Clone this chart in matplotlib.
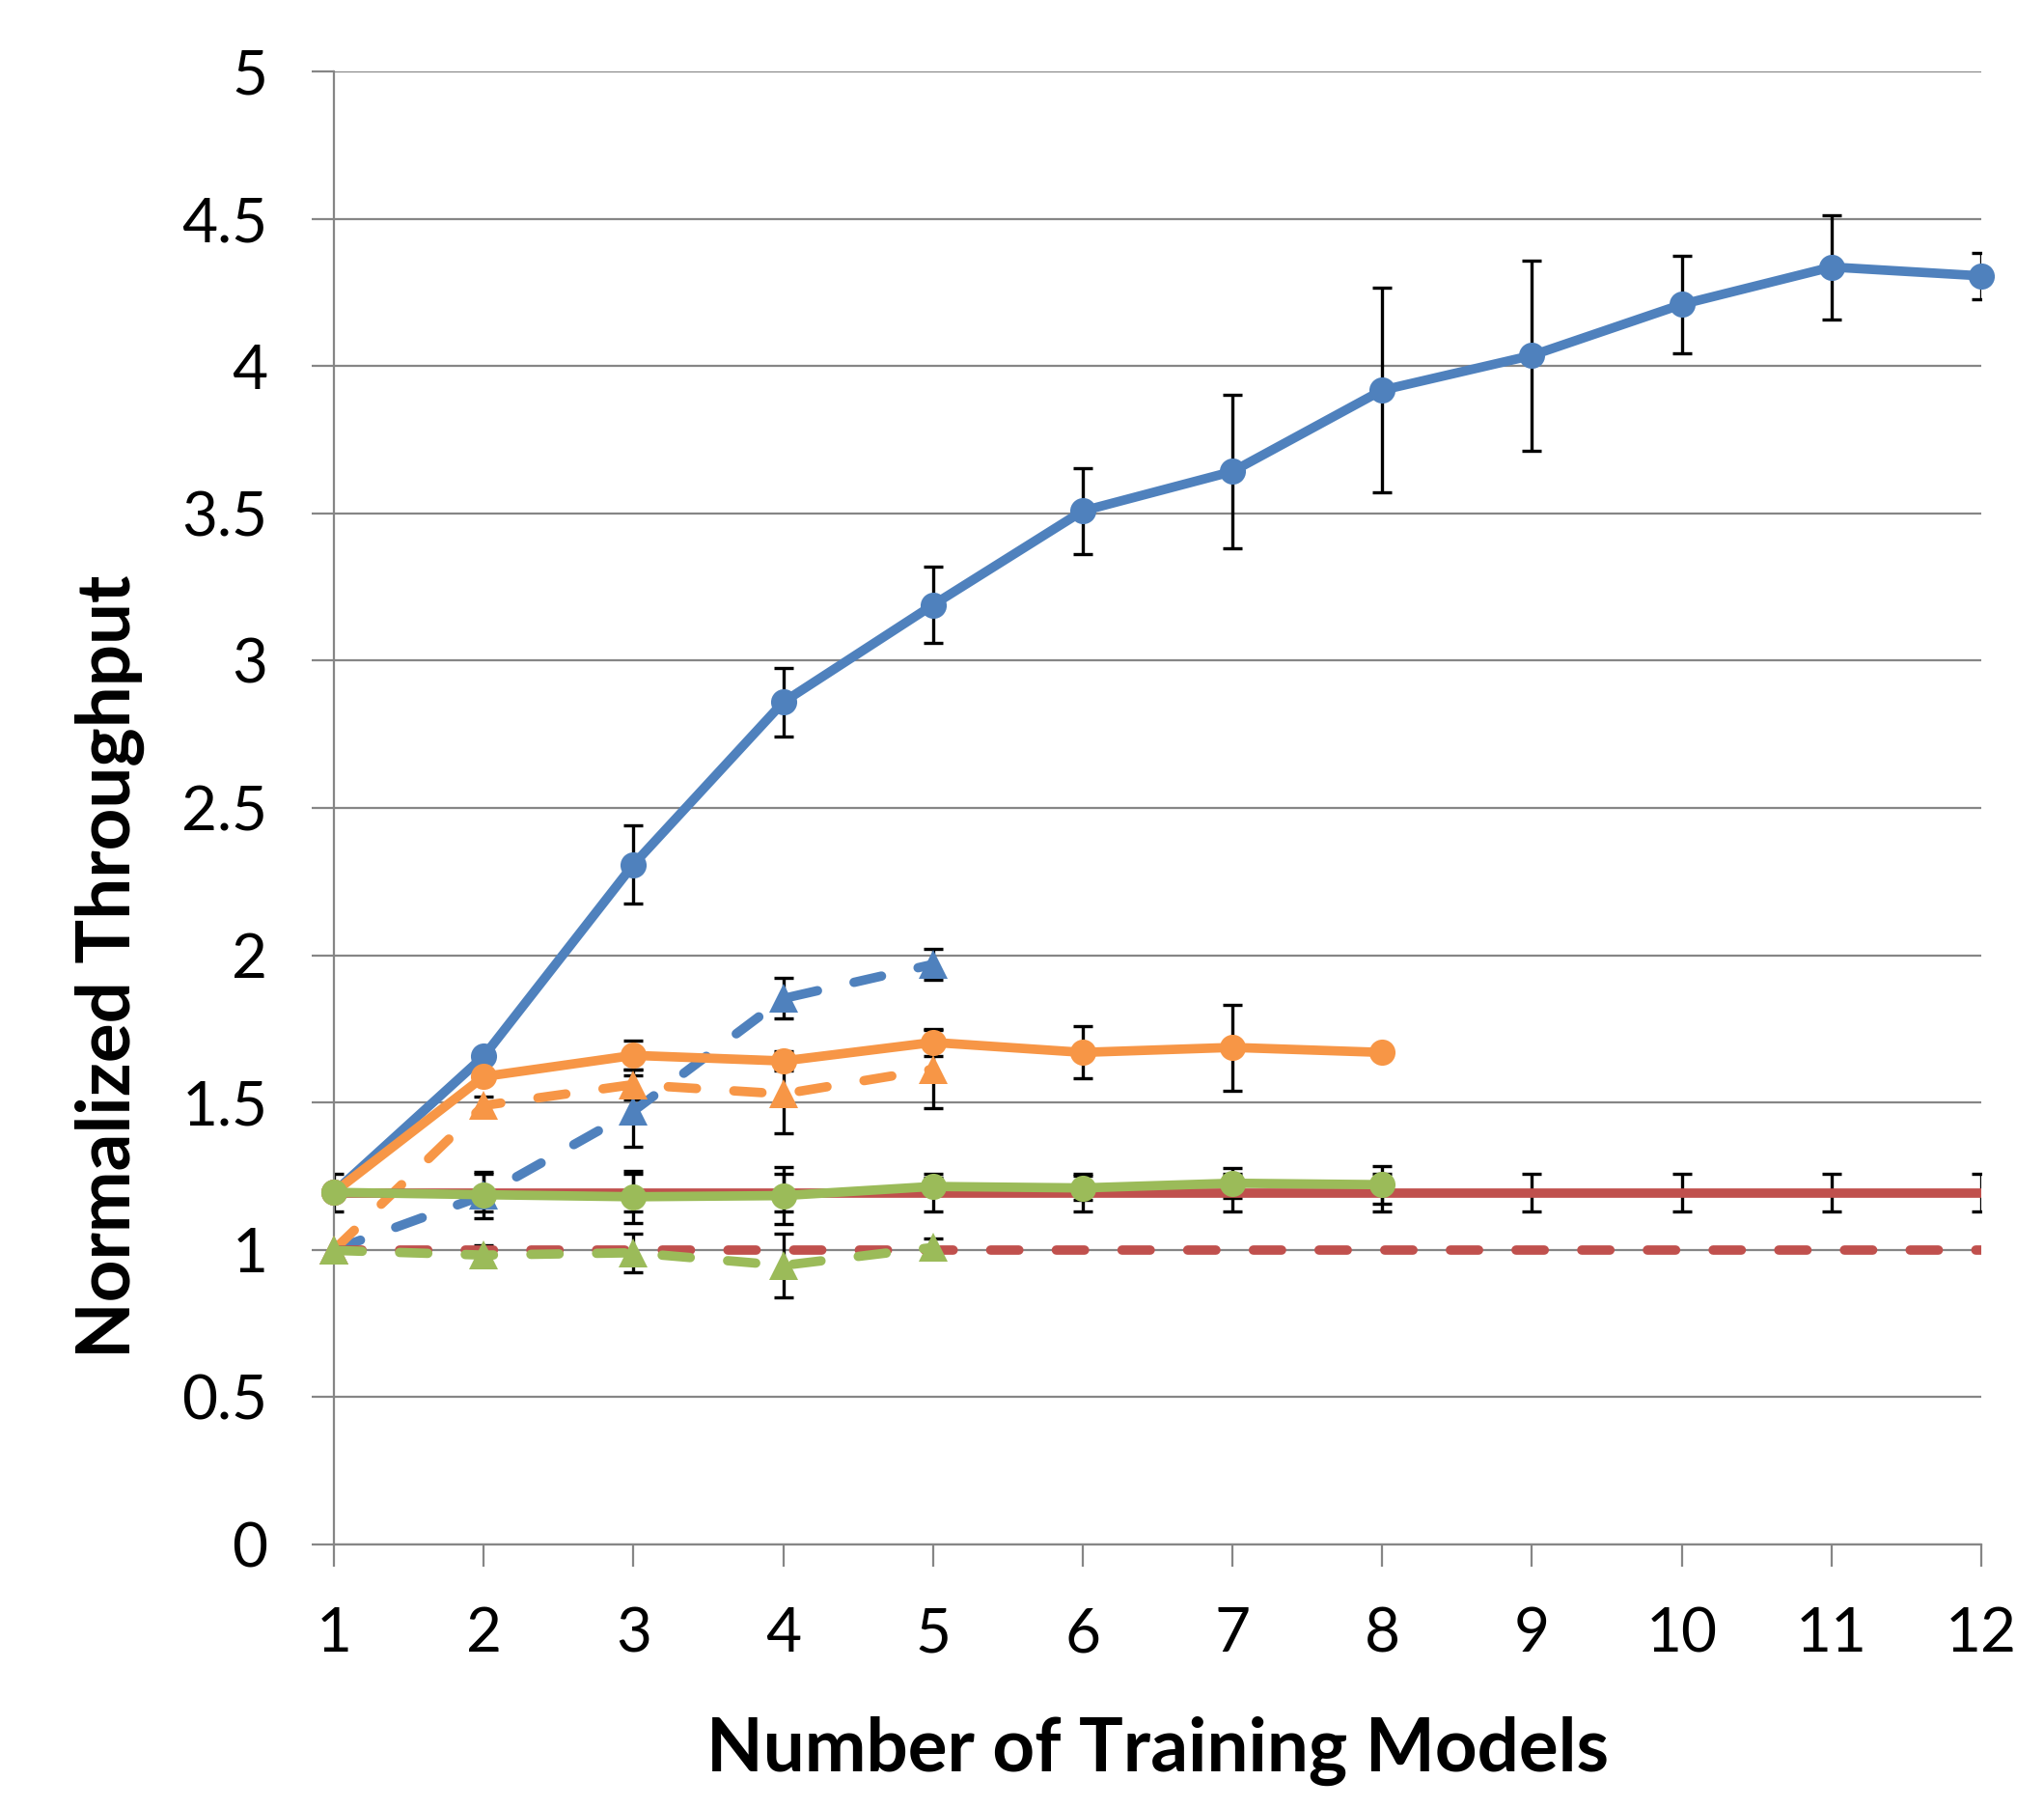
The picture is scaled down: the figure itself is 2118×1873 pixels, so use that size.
import matplotlib

matplotlib.use("Agg")

import matplotlib.pyplot as plt

plt.rcParams["font.family"] = ["Lato", "DejaVu Sans"]

# values
models_12 = [1, 2, 3, 4, 5, 6, 7, 8, 9, 10, 11, 12]
models_8 = [1, 2, 3, 4, 5, 6, 7, 8]
models_5 = [1, 2, 3, 4, 5]

blue_solid = [1.195, 1.657, 2.308, 2.859, 3.189, 3.508, 3.642, 3.918, 4.036, 4.209, 4.336, 4.306]
blue_solid_err = [0.0, 0.0, 0.134, 0.116, 0.130, 0.145, 0.261, 0.347, 0.323, 0.165, 0.177, 0.078]

blue_dashed = [1.0, 1.185, 1.471, 1.853, 1.969]
blue_dashed_err = [0.0, 0.078, 0.122, 0.069, 0.053]

orange_solid = [1.195, 1.588, 1.660, 1.641, 1.704, 1.670, 1.687, 1.670]
orange_solid_err = [0.0, 0.0, 0.049, 0.033, 0.047, 0.088, 0.146, 0.0]

orange_dashed = [1.0, 1.490, 1.561, 1.529, 1.613]
orange_dashed_err = [0.0, 0.03, 0.05, 0.133, 0.133]

red_solid = [1.194, 1.194, 1.194, 1.194, 1.194, 1.194, 1.194, 1.194, 1.194, 1.194, 1.194, 1.194]
red_solid_err = [0.065, 0.065, 0.065, 0.065, 0.065, 0.065, 0.065, 0.065, 0.065, 0.065, 0.065, 0.065]

red_dashed = [1.0, 1.0, 1.0, 1.0, 1.0, 1.0, 1.0, 1.0, 1.0, 1.0, 1.0, 1.0]

green_solid = [1.195, 1.187, 1.180, 1.184, 1.215, 1.210, 1.226, 1.221]
green_solid_err = [0.0, 0.02, 0.088, 0.098, 0.03, 0.04, 0.05, 0.063]

green_dashed = [0.998, 0.982, 0.990, 0.947, 1.008]
green_dashed_err = [0.0, 0.034, 0.066, 0.107, 0.032]

y_ticks = [0, 0.5, 1, 1.5, 2, 2.5, 3, 3.5, 4, 4.5, 5]
y_tick_labels = ["0", "0.5", "1", "1.5", "2", "2.5", "3", "3.5", "4", "4.5", "5"]

BLUE = "#4F81BD"
ORANGE = "#F79646"
RED = "#C0504D"
GREEN = "#9BBB59"
GRID = "#868686"

fig = plt.figure(figsize=(21.18, 18.73), dpi=100)
ax = fig.add_axes([0.1634, 0.1458, 0.8059, 0.8147])

series = [
    (models_12, blue_solid, blue_solid_err, BLUE, "solid", "o"),
    (models_5, blue_dashed, blue_dashed_err, BLUE, "dashed", "^"),
    (models_8, orange_solid, orange_solid_err, ORANGE, "solid", "o"),
    (models_5, orange_dashed, orange_dashed_err, ORANGE, "dashed", "^"),
    (models_12, red_solid, red_solid_err, RED, "solid", None),
    (models_12, red_dashed, None, RED, "dashed", None),
    (models_8, green_solid, green_solid_err, GREEN, "solid", "o"),
    (models_5, green_dashed, green_dashed_err, GREEN, "dashed", "^"),
]

# error bars sit under every line
for xs, ys, err, color, style, marker in series:
    if err is None:
        continue
    ax.errorbar(xs, ys, yerr=err, fmt="none", ecolor="black", elinewidth=2.4,
                capsize=7.2, capthick=2.4, zorder=2)

for i, (xs, ys, err, color, style, marker) in enumerate(series):
    line, = ax.plot(xs, ys, color=color, linewidth=7, solid_capstyle="butt",
                    dash_capstyle="round", zorder=3 + i)
    if style == "dashed":
        line.set_dashes((3.0, 4.0))
    if marker is not None:
        ms = 19.5 if marker == "o" else 22
        ax.plot(xs, ys, linestyle="none", marker=marker, markersize=ms,
                markerfacecolor=color, markeredgewidth=0, zorder=3 + i, clip_on=False)

ax.set_xlim(1, 12)
ax.set_ylim(0, 5)
ax.set_xticks(models_12)
ax.set_yticks(y_ticks)
ax.set_yticklabels(y_tick_labels)

ax.grid(True, axis="y", color=GRID, linewidth=1.6, zorder=0)
ax.set_axisbelow(True)
for side in ("top", "right"):
    ax.spines[side].set_visible(False)
for side in ("left", "bottom"):
    ax.spines[side].set_color(GRID)
    ax.spines[side].set_linewidth(1.6)

ax.tick_params(axis="both", direction="out", length=16.5, width=1.6, color=GRID,
               labelsize=46, labelcolor="black")
ax.tick_params(axis="x", pad=30)
ax.tick_params(axis="y", pad=33)

ax.set_xlabel("Number of Training Models", fontsize=55, fontweight="bold")
ax.set_ylabel("Normalized Throughput", fontsize=55, fontweight="bold")
ax.xaxis.set_label_coords(0.500, -0.140)
ax.yaxis.set_label_coords(-0.136, 0.392)
ax.xaxis.label.set_verticalalignment("center")
ax.yaxis.label.set_verticalalignment("center")

fig.savefig("out.png", dpi=100, facecolor="white")
